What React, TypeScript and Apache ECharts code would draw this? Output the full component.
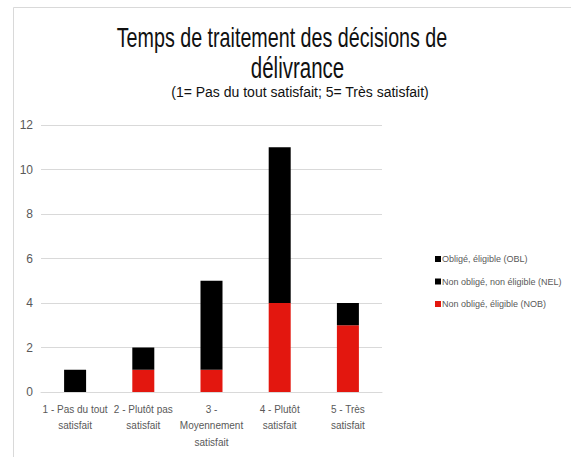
import React, { useEffect, useRef } from "react";
import * as echarts from "echarts";

const categories = [
  "1 - Pas du tout\nsatisfait",
  "2 - Plutôt pas\nsatisfait",
  "3 -\nMoyennement\nsatisfait",
  "4 - Plutôt\nsatisfait",
  "5 - Très\nsatisfait",
];
const nobValues = [0, 1, 1, 4, 3];
const nelValues = [1, 1, 4, 7, 1];
const oblValues = [0, 0, 0, 0, 0];
const seriesNames = [
  "Non obligé, éligible (NOB)",
  "Non obligé, non éligible (NEL)",
  "Obligé, éligible (OBL)",
];
const legendOrder = [seriesNames[2], seriesNames[1], seriesNames[0]];
const titleLines = ["Temps de traitement des décisions de", "délivrance"];
const subtitleText = "(1= Pas du tout satisfait; 5= Très satisfait)";

const FONT = "'Liberation Sans', Arial, sans-serif";

export default function App() {
  const ref = useRef<HTMLDivElement>(null);
  useEffect(() => {
    if (!ref.current) return;
    const chart = echarts.init(ref.current, null, { renderer: "svg" });
    const bar = (name: string, data: number[], color: string) => ({
      name,
      type: "bar",
      stack: "total",
      data,
      barWidth: 22,
      itemStyle: { color },
      emphasis: { disabled: true },
    });
    const titleText = (text: string, x: number, y: number, size: number, sy: number) => ({
      type: "text",
      x,
      y,
      scaleY: sy,
      silent: true,
      style: {
        text,
        fontSize: size,
        fontFamily: FONT,
        fill: "#111111",
        align: "center",
        verticalAlign: "middle",
        textAlign: "center",
        textVerticalAlign: "middle",
      },
    });
    chart.setOption({
      animation: false,
      backgroundColor: "#ffffff",
      textStyle: { fontFamily: FONT },
      graphic: [
        {
          type: "rect",
          shape: { x: 13.5, y: 7.5, width: 700, height: 600 },
          style: { fill: "none", stroke: "#d9d9d9", lineWidth: 1 },
          silent: true,
        },
        titleText(titleLines[0], 282, 37, 19.7, 1.4),
        titleText(titleLines[1], 297.5, 67.5, 20.5, 1.4),
        titleText(subtitleText, 300, 91.5, 14, 1.0),
      ],
      legend: {
        orient: "vertical",
        left: 430,
        top: 248,
        itemWidth: 6,
        itemHeight: 6,
        itemGap: 10.5,
        icon: "rect",
        data: legendOrder,
        textStyle: {
          fontSize: 9,
          lineHeight: 12,
          color: "#595959",
          fontFamily: FONT,
          padding: [0, 0, 0, -4],
        },
      },
      grid: { left: 41, right: 189, top: 125, bottom: 65 },
      xAxis: {
        type: "category",
        data: categories,
        axisLine: { lineStyle: { color: "#d9d9d9" } },
        axisTick: { show: false },
        axisLabel: {
          interval: 0,
          color: "#595959",
          fontSize: 10,
          lineHeight: 16.5,
          margin: 9,
          fontFamily: FONT,
        },
      },
      yAxis: {
        type: "value",
        min: 0,
        max: 12,
        interval: 2,
        axisLine: { show: false },
        axisTick: { show: false },
        splitLine: { lineStyle: { color: "#d9d9d9" } },
        axisLabel: { color: "#595959", fontSize: 12, margin: 8, fontFamily: FONT },
      },
      series: [
        bar(seriesNames[0], nobValues, "#e3170f"),
        bar(seriesNames[1], nelValues, "#000000"),
        bar(seriesNames[2], oblValues, "#000000"),
      ],
    });
    return () => chart.dispose();
  }, []);
  return (
    <div
      ref={ref}
      style={{ position: "absolute", left: 0, top: 0, width: 571, height: 457 }}
    />
  );
}
